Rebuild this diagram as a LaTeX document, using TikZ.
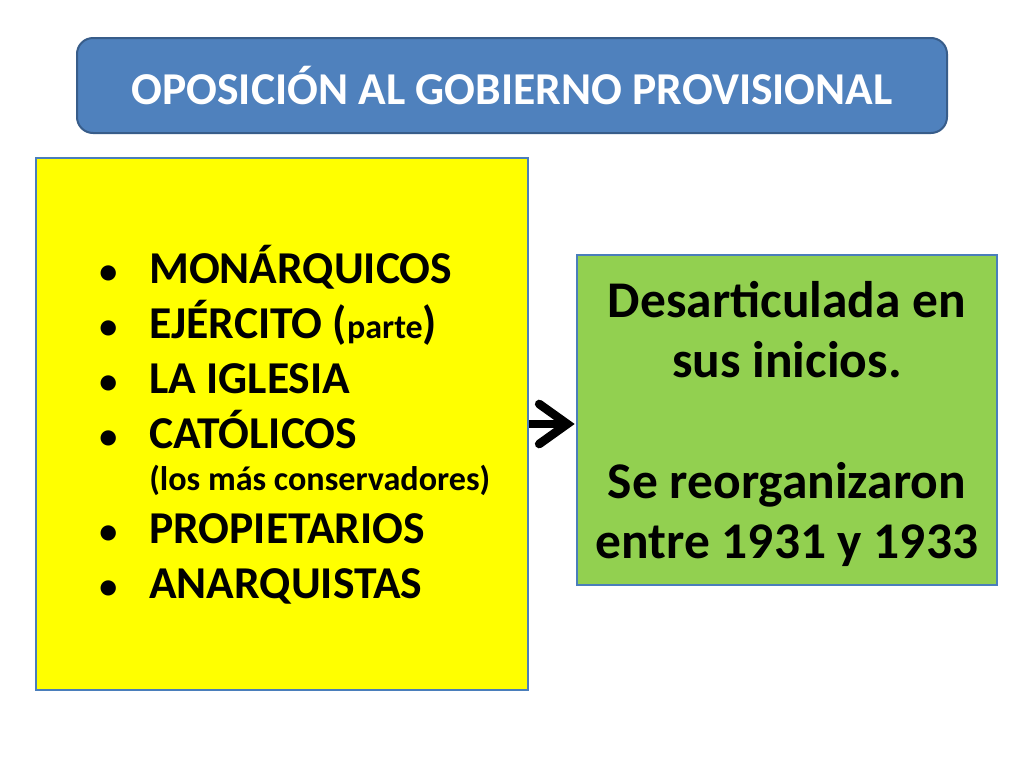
\documentclass[tikz,border=0pt]{standalone}
\usepackage{fontspec}
\setmainfont{Carlito}
\usetikzlibrary{arrows.meta,positioning}

\definecolor{titleblue}{HTML}{4F81BD}
\definecolor{titleedge}{HTML}{385D8A}
\definecolor{boxedge}{HTML}{4A7EBB}
\definecolor{listyellow}{HTML}{FFFF00}
\definecolor{resultgreen}{HTML}{92D050}

\newcommand{\itembullet}{\makebox[37.5pt][l]{\fontsize{27}{27}\selectfont\textbullet}}

\begin{document}
\begin{tikzpicture}[x=0.75pt,y=-0.75pt,
    title node/.style={rectangle,rounded corners=12pt,draw=titleedge,line width=1.5pt,fill=titleblue,text=white,
                       font=\fontsize{34.2}{40}\selectfont\bfseries,minimum width=652.5pt,minimum height=71.25pt},
    list box/.style={rectangle,draw=boxedge,line width=1.5pt,fill=listyellow,minimum width=369pt,minimum height=399pt},
    result box/.style={rectangle,draw=boxedge,line width=1.5pt,fill=resultgreen,minimum width=315pt,minimum height=247.5pt},
    result text/.style={inner sep=0pt,align=center,font=\fontsize{38.6}{45}\selectfont\bfseries},
    list text/.style={inner sep=0pt,anchor=base west,align=left,
                      font=\fontsize{34.2}{41.25}\selectfont\bfseries}]

    \useasboundingbox (0,0) rectangle (1024,768);

    \node[title node] (title) at (512,85.5) {OPOSICIÓN AL GOBIERNO PROVISIONAL};
    \node[list box] (groups) at (282,424) {};
    \node[result box] (result) at (787,420) {};
    \node[result text] (resulttext) at (787,424) {Desarticulada en\\sus inicios.\\[46pt]Se reorganizaron\\entre 1931 y 1933};

    % base anchor sits on the last line
    \node[list text] (items) at (99,598) {%
      \itembullet MONÁRQUICOS\\
      \itembullet EJÉRCITO ({\fontsize{25.5}{28}\selectfont parte})\\
      \itembullet LA IGLESIA\\
      \itembullet CATÓLICOS\\[-9.75pt]
      \hspace*{37.5pt}{\fontsize{25.6}{28}\selectfont (los más conservadores)}\\[-1.5pt]
      \itembullet PROPIETARIOS\\
      \itembullet ANARQUISTAS};

    \draw[-{Straight Barb[length=21pt,width=30pt,line cap=round]},line width=6.5pt,shorten >=1pt]
      (groups.east) -- (groups.east -| result.west);
\end{tikzpicture}
\end{document}
